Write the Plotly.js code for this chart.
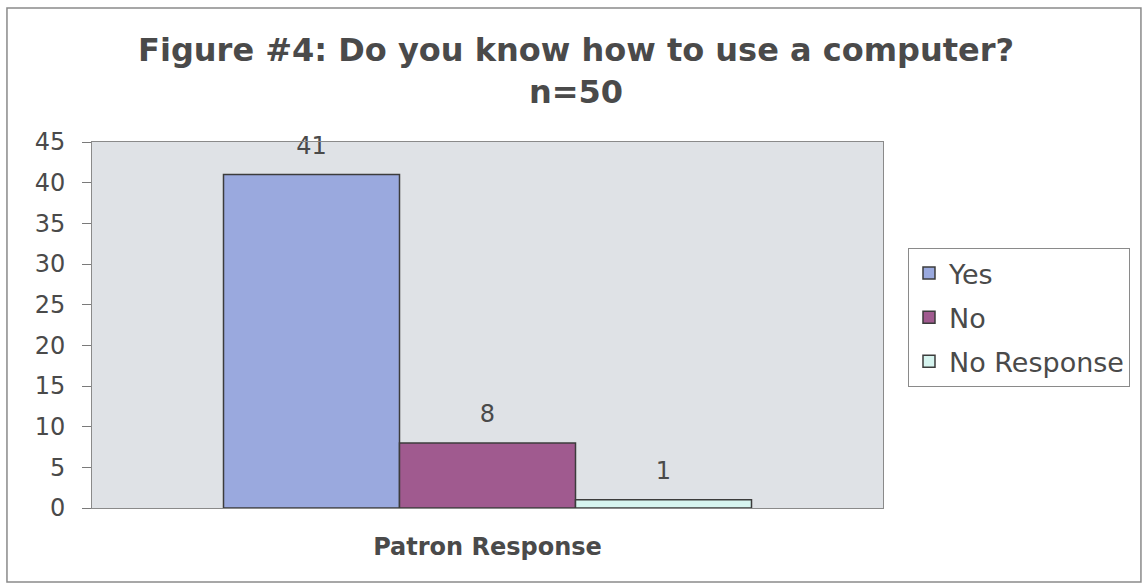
<!DOCTYPE html>
<html>
<head>
<meta charset="utf-8">
<script src="https://cdn.plot.ly/plotly-3.0.1.min.js"></script>
<style>
  html, body { margin: 0; padding: 0; background: #ffffff; }
  #chart { width: 1143px; height: 584px; }
</style>
</head>
<body>
<div id="chart"></div>
<script>
// ---- data ----
const categories = ["Patron Response"];
const seriesNames = ["Yes", "No", "No Response"];
const yesValues = [41];
const noValues = [8];
const noResponseValues = [1];
const yTickVals = [0, 5, 10, 15, 20, 25, 30, 35, 40, 45];

const seriesValues = [yesValues, noValues, noResponseValues];
const seriesColors = ["#9aa9de", "#a05a8f", "#d6f4ef"];
const textColor = "#4a4a4a";
const fontFamily = "DejaVu Sans, Liberation Sans, Arial, sans-serif";

const traces = [];
// bars
seriesNames.forEach((name, i) => {
  traces.push({
    type: "bar",
    name: name,
    x: categories,
    y: seriesValues[i],
    offsetgroup: String(i),
    legendgroup: "g" + i,
    marker: { color: seriesColors[i], line: { color: "#3c3c3c", width: 1.5 } },
    hoverinfo: "skip"
  });
});
// value labels (grouped scatter aligned with the bars)
seriesNames.forEach((name, i) => {
  traces.push({
    type: "scatter",
    mode: "markers+text",
    x: categories,
    y: seriesValues[i],
    offsetgroup: String(i),
    text: seriesValues[i].map(v => String(v)),
    textposition: "top center",
    textfont: { family: fontFamily, size: 24, color: textColor },
    marker: { size: 22, opacity: 0, color: seriesColors[i] },
    showlegend: false,
    hoverinfo: "skip",
    cliponaxis: false
  });
});

const layout = {
  width: 1143,
  height: 584,
  margin: { l: 92, r: 260, t: 142, b: 76, pad: 0 },
  paper_bgcolor: "#ffffff",
  plot_bgcolor: "#dfe2e6",
  barmode: "group",
  scattermode: "group",
  bargap: 0.3325,
  bargroupgap: 0,
  scattergap: 0.3325,
  showlegend: true,
  font: { family: fontFamily, color: textColor },
  title: {
    text: "Figure #4: Do you know how to use a computer?<br>n=50",
    font: { family: fontFamily, size: 32, color: textColor, weight: "bold" },
    x: 0.504,
    xref: "container",
    xanchor: "center",
    y: 0.895,
    yref: "container",
    yanchor: "top"
  },
  xaxis: {
    type: "category",
    showticklabels: false,
    ticks: "",
    showline: true,
    linecolor: "#8a8a8a",
    linewidth: 1,
    mirror: true,
    showgrid: false,
    zeroline: false,
    fixedrange: true,
    title: {
      text: "Patron Response",
      font: { family: fontFamily, size: 24, color: textColor, weight: "bold" },
      standoff: 30
    }
  },
  yaxis: {
    range: [0, 45],
    tickvals: yTickVals,
    ticktext: yTickVals.map(String),
    ticks: "outside",
    ticklen: 9,
    tickcolor: "#7a7a7a",
    tickwidth: 1,
    ticklabelstandoff: 12,
    tickfont: { family: fontFamily, size: 24, color: textColor },
    showline: true,
    linecolor: "#8a8a8a",
    linewidth: 1,
    mirror: true,
    showgrid: false,
    zeroline: false,
    fixedrange: true
  },
  legend: {
    x: 1.0316,
    xanchor: "left",
    y: 0.7104,
    yanchor: "top",
    bgcolor: "#ffffff",
    bordercolor: "#8a8a8a",
    borderwidth: 1,
    traceorder: "grouped",
    tracegroupgap: 6,
    font: { family: fontFamily, size: 27, color: textColor }
  },
  shapes: [{
    type: "rect",
    xref: "paper", yref: "paper",
    x0: -0.1075, x1: 1.3261, y0: -0.2022, y1: 1.3661,
    line: { color: "#8a8a8a", width: 1.5 },
    fillcolor: "rgba(0,0,0,0)",
    layer: "below"
  }]
};

Plotly.newPlot("chart", traces, layout, { displayModeBar: false, staticPlot: true });
</script>
</body>
</html>
